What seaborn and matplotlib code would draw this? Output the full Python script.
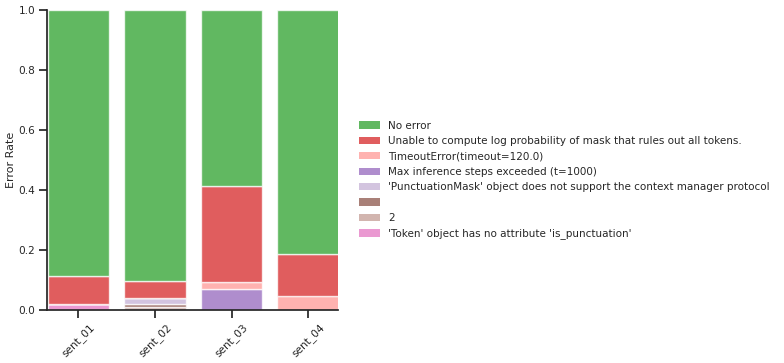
import matplotlib
matplotlib.use("Agg")
import matplotlib.pyplot as plt
import seaborn as sns
import numpy as np
from matplotlib.patches import Patch

categories = ["sent_01", "sent_02", "sent_03", "sent_04"]

# stacked from bottom to top
series_labels = [
    "'Token' object has no attribute 'is_punctuation'",
    "2",
    "",
    "'PunctuationMask' object does not support the context manager protocol",
    "Max inference steps exceeded (t=1000)",
    "TimeoutError(timeout=120.0)",
    "Unable to compute log probability of mask that rules out all tokens.",
    "No error",
]
token_err = [0.020, 0.0, 0.0, 0.0]
two_err = [0.0, 0.009, 0.0, 0.0]
empty_err = [0.0, 0.010, 0.0, 0.0]
punct_mask = [0.0, 0.020, 0.0, 0.0]
max_steps = [0.0, 0.0, 0.070, 0.0]
timeout = [0.0, 0.0, 0.024, 0.047]
unable = [0.093, 0.058, 0.320, 0.140]
no_error = [0.887, 0.903, 0.586, 0.813]
series_values = [token_err, two_err, empty_err, punct_mask, max_steps, timeout, unable, no_error]
series_colors = ["#e377c2", "#c49c94", "#8c564b", "#c5b0d5", "#9467bd", "#ff9896", "#d62728", "#2ca02c"]

sns.set_theme(style="ticks")
plt.rcParams['font.family'] = ['DejaVu Sans']

FS = 7.6
fig = plt.figure(figsize=(7.84, 3.63), dpi=100)
ax = fig.add_axes([0.060, 0.146, 0.371, 0.826])

bottom = np.zeros(len(categories))
for lab, vals, col in zip(series_labels, series_values, series_colors):
    sns.barplot(x=categories, y=vals, bottom=bottom, color=col, alpha=0.75, saturation=1,
                edgecolor="white", linewidth=1, width=0.8, ax=ax, errorbar=None)
    bottom = bottom + np.array(vals)

ax.set_ylim(0, 1.0)
ax.set_xlim(-0.41, 3.39)
ax.set_ylabel("Error Rate", fontsize=FS + 0.4, labelpad=1.5)
ax.set_xlabel("")
ax.tick_params(axis="both", labelsize=FS, length=5.5, width=1.25, color="#262626", pad=3)
for lbl in ax.get_xticklabels():
    lbl.set_rotation(45)
for s in ["left", "bottom"]:
    ax.spines[s].set_linewidth(1.25)
    ax.spines[s].set_color("#262626")
sns.despine(ax=ax)

handles = [Patch(facecolor=c, alpha=0.75, edgecolor="none") for c in series_colors][::-1]
labels = series_labels[::-1]
fig.legend(handles, labels, loc="center left", bbox_to_anchor=(0.453, 0.504),
           frameon=False, fontsize=FS - 0.1, handlelength=2.0, labelspacing=0.52,
           borderaxespad=0)

fig.savefig("out.png", dpi=100)
